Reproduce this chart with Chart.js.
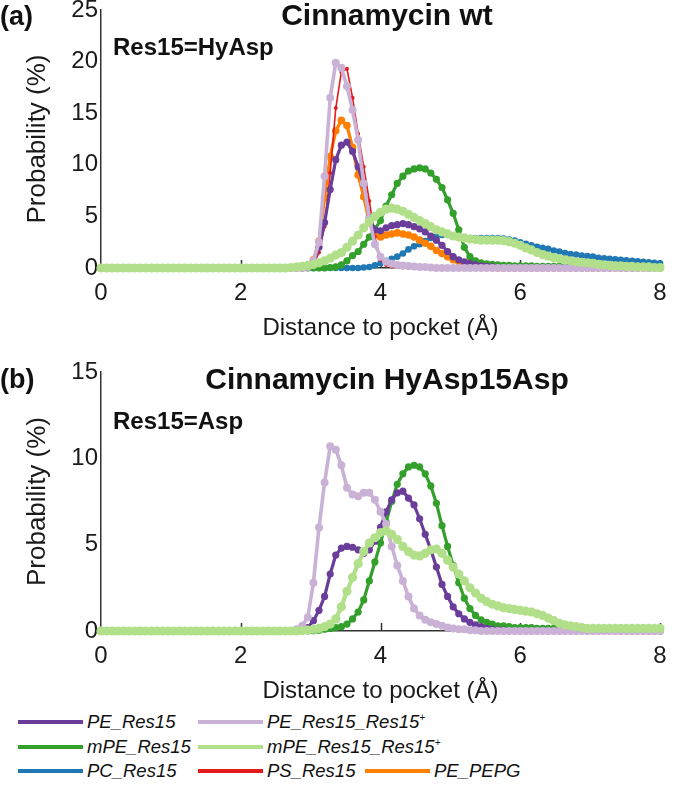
<!DOCTYPE html>
<html><head><meta charset="utf-8">
<script src="https://cdn.jsdelivr.net/npm/chart.js@4.4.1/dist/chart.umd.min.js"></script>
<style>
html,body{margin:0;padding:0;background:#fff;}
#wrap{position:relative;width:700px;height:789px;overflow:hidden;font-family:'Liberation Sans',Arial,sans-serif;color:#111;}
canvas{position:absolute;left:0;}
#ca{top:-20px;}
#cb{top:342px;}
.lbl{position:absolute;line-height:1;white-space:nowrap;font-weight:bold;color:#111;}
.leg{position:absolute;height:24px;display:flex;align-items:center;font-style:italic;font-size:18.5px;white-space:nowrap;color:#111;}
.sw{display:inline-block;width:65px;height:4px;margin-right:4px;}
sup{font-size:10px;vertical-align:7px;line-height:0;}
</style></head>
<body>
<div id="wrap">
  <canvas id="ca" width="700" height="365"></canvas>
  <canvas id="cb" width="700" height="366"></canvas>
  <div class="lbl" style="left:0px;top:2.6px;font-size:27px;">(a)</div>
  <div class="lbl" style="left:387px;top:0px;font-size:30px;transform:translateX(-50%);">Cinnamycin wt</div>
  <div class="lbl" style="left:113px;top:35px;font-size:24px;">Res15=HyAsp</div>
  <div class="lbl" style="left:0px;top:366px;font-size:27px;">(b)</div>
  <div class="lbl" style="left:387px;top:364px;font-size:30px;transform:translateX(-50%);">Cinnamycin HyAsp15Asp</div>
  <div class="lbl" style="left:113px;top:409px;font-size:24px;">Res15=Asp</div>
  <div id="legend"></div>
</div>
<script>
// ---- data ----
const distance = [
0,0.08,0.16,0.24,0.32,0.4,0.48,0.56,0.64,0.72,
0.8,0.88,0.96,1.04,1.12,1.2,1.28,1.36,1.44,1.52,
1.6,1.68,1.76,1.84,1.92,2,2.08,2.16,2.24,2.32,
2.4,2.48,2.56,2.64,2.72,2.8,2.88,2.96,3.04,3.12,
3.2,3.28,3.36,3.44,3.52,3.6,3.68,3.76,3.84,3.92,
4,4.08,4.16,4.24,4.32,4.4,4.48,4.56,4.64,4.72,
4.8,4.88,4.96,5.04,5.12,5.2,5.28,5.36,5.44,5.52,
5.6,5.68,5.76,5.84,5.92,6,6.08,6.16,6.24,6.32,
6.4,6.48,6.56,6.64,6.72,6.8,6.88,6.96,7.04,7.12,
7.2,7.28,7.36,7.44,7.52,7.6,7.68,7.76,7.84,7.92,
8];

const xTickValues = [0,2,4,6,8];
const yTickValuesA = [0,5,10,15,20,25];
const yTickValuesB = [0,5,10,15];

// Panel (a): Cinnamycin wt
const wtPE = [
0,0,0,0,0,0,0,0,0,0,
0,0,0,0,0,0,0,0,0,0,
0,0,0,0,0,0,0,0,0,0,
0,0,0,0,0,0,0,0.1,0.6,2.0,
4.4,7.6,10.5,11.9,12.2,11.3,9.8,8.1,4.9,3.7,
3.6,3.9,4.1,4.2,4.3,4.2,4.0,3.8,3.5,3.1,
2.7,2.2,1.6,1.1,0.8,0.6,0.45,0.3,0.2,0.15,
0.1,0.05,0,0,0,0,0,0,0,0,
0,0,0,0,0,0,0,0,0,0,
0,0,0,0,0,0,0,0,0,0,
0];
const wtPEplus = [
0,0,0,0,0,0,0,0,0,0,
0,0,0,0,0,0,0,0,0,0,
0,0,0,0,0,0,0,0,0,0,
0,0,0,0,0,0,0,0.1,0.7,2.5,
8.9,16.5,19.9,19.4,17.6,15.3,12.4,8.2,4.8,2.3,
1.1,0.6,0.4,0.3,0.25,0.2,0.15,0.1,0.1,0.05,
0,0,0,0,0,0,0,0,0,0,
0,0,0,0,0,0,0,0,0,0,
0,0,0,0,0,0,0,0,0,0,
0,0,0,0,0,0,0,0,0,0,
0];
const wtmPE = [
0,0,0,0,0,0,0,0,0,0,
0,0,0,0,0,0,0,0,0,0,
0,0,0,0,0,0,0,0,0,0,
0,0,0,0,0,0,0,0,0,0,
0,0.05,0.1,0.3,0.7,1.2,1.6,2.3,3.0,3.8,
4.6,6.0,7.1,8.2,8.9,9.4,9.6,9.7,9.6,9.2,
8.6,7.8,6.6,5.3,3.7,2.0,1.1,0.7,0.5,0.4,
0.35,0.3,0.25,0.25,0.2,0.2,0.2,0.2,0.15,0.15,
0.15,0.15,0.15,0.1,0.1,0.1,0.1,0.1,0.1,0.1,
0.05,0.05,0.05,0.05,0.05,0.05,0.05,0.05,0,0,
0];
const wtmPEplus = [
0,0,0,0,0,0,0,0,0,0,
0,0,0,0,0,0,0,0,0,0,
0,0,0,0,0,0,0,0,0,0,
0,0,0,0,0.05,0.1,0.15,0.25,0.35,0.5,
0.7,0.95,1.25,1.5,2.0,2.6,3.2,3.9,4.5,5.0,
5.4,5.7,5.8,5.7,5.5,5.2,4.9,4.6,4.3,4.0,
3.7,3.5,3.3,3.1,3.0,2.9,2.8,2.75,2.7,2.7,
2.7,2.7,2.65,2.55,2.4,2.2,1.95,1.75,1.5,1.3,
1.15,1.0,0.9,0.8,0.7,0.6,0.55,0.5,0.45,0.35,
0.3,0.25,0.2,0.2,0.15,0.15,0.1,0.1,0.1,0.05,
0.05];
const wtPC = [
0,0,0,0,0,0,0,0,0,0,
0,0,0,0,0,0,0,0,0,0,
0,0,0,0,0,0,0,0,0,0,
0,0,0,0,0,0,0,0,0,0,
0,0,0,0,0,0,0,0.05,0.1,0.25,
0.45,0.7,0.9,1.1,1.4,1.8,2.1,2.3,2.6,2.9,
3.1,3.2,3.2,3.1,3.0,3.0,2.9,2.9,2.9,2.9,
2.9,2.9,2.85,2.75,2.65,2.5,2.35,2.2,2.05,1.95,
1.85,1.7,1.6,1.45,1.35,1.3,1.2,1.15,1.1,1.0,
0.95,0.9,0.85,0.8,0.75,0.7,0.65,0.6,0.55,0.5,
0.45];
const wtPS = [
0,0,0,0,0,0,0,0,0,0,
0,0,0,0,0,0,0,0,0,0,
0,0,0,0,0,0,0,0,0,0,
0,0,0,0,0,0,0,0,0.3,1.5,
4.0,9.2,15.5,19.0,19.3,16.5,13.0,9.8,6.5,3.0,
0.8,0.3,0.15,0.1,0.05,0,0,0,0,0,
0,0,0,0,0,0,0,0,0,0,
0,0,0,0,0,0,0,0,0,0,
0,0,0,0,0,0,0,0,0,0,
0,0,0,0,0,0,0,0,0,0,
0];
const wtPEPG = [
0,0,0,0,0,0,0,0,0,0,
0,0,0,0,0,0,0,0,0,0,
0,0,0,0,0,0,0,0,0,0,
0,0,0,0,0,0,0,0.1,0.8,2.6,
6.8,10.8,13.3,14.3,13.8,11.7,9.0,6.9,4.4,3.3,
3.0,3.2,3.3,3.4,3.3,3.2,3.0,2.7,2.4,2.1,
1.7,1.4,1.1,0.8,0.6,0.45,0.3,0.2,0.15,0.1,
0.05,0,0,0,0,0,0,0,0,0,
0,0,0,0,0,0,0,0,0,0,
0,0,0,0,0,0,0,0,0,0,
0];

// Panel (b): Cinnamycin HyAsp15Asp
const mutPE = [
0,0,0,0,0,0,0,0,0,0,
0,0,0,0,0,0,0,0,0,0,
0,0,0,0,0,0,0,0,0,0,
0,0,0,0,0,0,0.05,0.2,0.6,1.2,
2.0,3.3,4.4,4.8,4.9,4.85,4.7,4.5,4.7,5.2,
6.0,6.9,7.6,8.0,8.1,7.7,7.3,6.5,5.6,4.7,
3.7,2.7,2.0,1.4,1.0,0.7,0.5,0.35,0.25,0.15,
0.1,0.05,0.05,0,0,0,0,0,0,0,
0,0,0,0,0,0,0,0,0,0,
0,0,0,0,0,0,0,0,0,0,
0];
const mutPEplus = [
0,0,0,0,0,0,0,0,0,0,
0,0,0,0,0,0,0,0,0,0,
0,0,0,0,0,0,0,0,0,0,
0,0,0,0,0,0.1,0.3,0.8,2.8,6.0,
8.6,10.7,10.5,9.6,8.3,7.9,7.8,8.0,8.0,7.6,
6.9,6.2,4.9,3.8,2.9,2.0,1.3,0.9,0.65,0.5,
0.4,0.3,0.2,0.15,0.1,0.1,0.05,0.05,0,0,
0,0,0,0,0,0,0,0,0,0,
0,0,0,0,0,0,0,0,0,0,
0,0,0,0,0,0,0,0,0,0,
0];
const mutmPE = [
0,0,0,0,0,0,0,0,0,0,
0,0,0,0,0,0,0,0,0,0,
0,0,0,0,0,0,0,0,0,0,
0,0,0,0,0,0,0,0,0.02,0.05,
0.1,0.15,0.2,0.25,0.4,0.7,1.1,1.8,2.9,4.0,
5.1,6.3,7.5,8.5,9.1,9.5,9.6,9.5,9.1,8.4,
7.4,6.1,4.9,3.8,2.8,1.9,1.3,0.9,0.65,0.5,
0.4,0.3,0.3,0.25,0.2,0.2,0.2,0.2,0.15,0.15,
0.15,0.15,0.1,0.1,0.1,0.1,0.1,0.05,0.05,0.05,
0.05,0.05,0,0,0,0,0,0,0,0,
0];
const mutmPEplus = [
0,0,0,0,0,0,0,0,0,0,
0,0,0,0,0,0,0,0,0,0,
0,0,0,0,0,0,0,0,0,0,
0,0,0,0,0,0,0.02,0.05,0.1,0.15,
0.25,0.4,0.7,1.4,2.3,3.1,3.9,4.6,5.1,5.4,
5.7,5.8,5.6,5.3,4.9,4.6,4.4,4.35,4.5,4.7,
4.75,4.5,4.1,3.7,3.3,2.9,2.5,2.2,1.9,1.7,
1.55,1.45,1.35,1.3,1.25,1.2,1.15,1.1,1.0,0.9,
0.75,0.6,0.45,0.35,0.3,0.25,0.2,0.15,0.15,0.15,
0.15,0.15,0.15,0.15,0.15,0.15,0.15,0.15,0.15,0.15,
0.15];

// ---- styles (separate from data) ----
const styles = {
  PE:      {label:'PE_Res15',         color:'#6a3d9a', lw:3.2, r:3.6, order:2},
  PEplus:  {label:'PE_Res15_Res15+',  color:'#cab2d6', lw:3.6, r:4.0, order:1},
  mPE:     {label:'mPE_Res15',        color:'#33a02c', lw:3.2, r:3.6, order:3},
  mPEplus: {label:'mPE_Res15_Res15+', color:'#b2df8a', lw:4.2, r:4.6, order:0},
  PC:      {label:'PC_Res15',         color:'#1f78b4', lw:2.8, r:3.3, order:6},
  PS:      {label:'PS_Res15',         color:'#e31a1c', lw:1.6, r:2.0, order:4},
  PEPG:    {label:'PE_PEPG',          color:'#ff7f00', lw:3.2, r:3.8, order:5}
};

function toPoints(ys){ return distance.map((x,i)=>({x:x, y:ys[i]})); }
function ds(st, ys){
  return {label:st.label, data:toPoints(ys), borderColor:st.color, backgroundColor:st.color,
    pointBackgroundColor:st.color, pointBorderColor:st.color, pointBorderWidth:0,
    borderWidth:st.lw, pointRadius:st.r, pointHoverRadius:st.r, order:st.order,
    tension:0, fill:false, clip:10};
}

const tickPlugin = {
  id:'inTicks',
  beforeDatasetsDraw(chart){
    const {ctx, chartArea, scales:{x}} = chart;
    ctx.save();
    ctx.strokeStyle = '#333'; ctx.lineWidth = 1.5;
    xTickValues.forEach(v=>{
      if (v===0) return;
      const px = Math.round(x.getPixelForValue(v))+0.5;
      ctx.beginPath(); ctx.moveTo(px, chartArea.bottom); ctx.lineTo(px, chartArea.bottom-8); ctx.stroke();
    });
    ctx.restore();
  }
};

Chart.defaults.font.family = "'Liberation Sans', Arial, sans-serif";
Chart.defaults.color = '#1a1a1a';

function makeChart(id, yMax, yTicks, datasets){
  return new Chart(document.getElementById(id), {
    type:'line',
    data:{datasets:datasets},
    options:{
      responsive:false, animation:false, events:[],
      layout:{padding:{left:0,right:40,top:30,bottom:0}},
      plugins:{legend:{display:false}, tooltip:{enabled:false}, title:{display:false}},
      scales:{
        x:{type:'linear', min:0, max:8,
           afterBuildTicks:s=>{ s.ticks = xTickValues.map(v=>({value:v})); },
           ticks:{padding:11, font:{size:24}, color:'#1a1a1a', maxRotation:0, autoSkip:false},
           grid:{display:false, drawTicks:false, tickLength:0},
           border:{display:true, color:'#333', width:1.5},
           title:{display:true, text:'Distance to pocket (Å)', font:{size:24}, color:'#1a1a1a', padding:{top:0,bottom:2}},
           afterFit:s=>{ s.height = 77; }},
        y:{type:'linear', min:0, max:yMax,
           afterBuildTicks:s=>{ s.ticks = yTicks.map(v=>({value:v})); },
           ticks:{padding:3, font:{size:24}, color:'#1a1a1a', autoSkip:false},
           grid:{display:false, drawTicks:false, tickLength:0},
           border:{display:true, color:'#333', width:1.5},
           title:{display:true, text:'Probability (%)', font:{size:26}, color:'#1a1a1a', padding:{top:22,bottom:0}},
           afterFit:s=>{ s.width = 101; }}
      }
    },
    plugins:[tickPlugin]
  });
}

makeChart('ca', 25, yTickValuesA, [
  ds(styles.PE, wtPE), ds(styles.PEplus, wtPEplus), ds(styles.mPE, wtmPE), ds(styles.mPEplus, wtmPEplus),
  ds(styles.PC, wtPC), ds(styles.PS, wtPS), ds(styles.PEPG, wtPEPG)
]);
makeChart('cb', 15, yTickValuesB, [
  ds(styles.PE, mutPE), ds(styles.PEplus, mutPEplus), ds(styles.mPE, mutmPE), ds(styles.mPEplus, mutmPEplus)
]);

// ---- legend (HTML) ----
const legendItems = [
  ['PE', 18, 710], ['PEplus', 198, 710],
  ['mPE', 18, 735], ['mPEplus', 198, 735],
  ['PC', 18, 759], ['PS', 198, 759], ['PEPG', 365, 759]
];
const leg = document.getElementById('legend');
legendItems.forEach(([k,x,y])=>{
  const st = styles[k];
  const d = document.createElement('div');
  d.className = 'leg'; d.style.left = x+'px'; d.style.top = y+'px';
  const sw = document.createElement('span'); sw.className='sw'; sw.style.background = st.color;
  const t = document.createElement('span');
  t.innerHTML = st.label.replace(/\+$/, '<sup>+</sup>');
  d.appendChild(sw); d.appendChild(t);
  leg.appendChild(d);
});
</script>
</body></html>
